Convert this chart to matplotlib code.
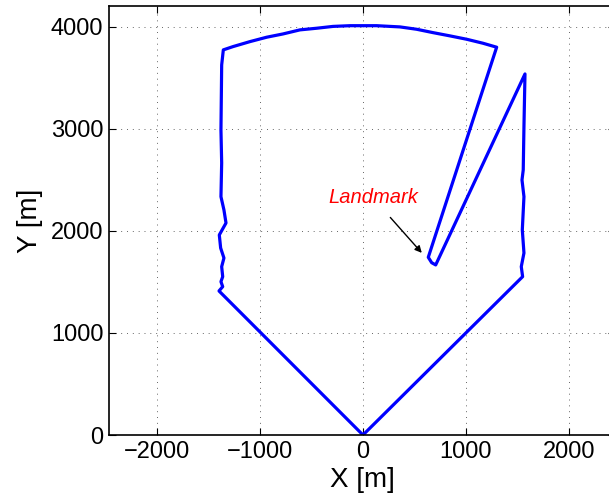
import matplotlib
matplotlib.use("Agg")
import matplotlib.pyplot as plt
import numpy as np

# trajectory (metres)
x_path = [0, -1398, -1362, -1379, -1362, -1372, -1350, -1382, -1395, -1330,
          -1350, -1379, -1372, -1379, -1372, -1356, -1262, -1097, -935, -777,
          -612, -450, -291, -126, 133, 359, 521, 680, 845, 1007, 1165, 1298,
          634, 667, 706, 1573, 1563, 1556, 1544, 1563, 1547, 1563, 1537, 1550, 0]
y_path = [0, 1412, 1454, 1503, 1552, 1650, 1735, 1833, 1961, 2078,
          2206, 2336, 2667, 2990, 3627, 3775, 3807, 3856, 3899, 3931,
          3971, 3987, 4005, 4012, 4012, 4000, 3977, 3944, 3912, 3879, 3840, 3801,
          1742, 1689, 1667, 3539, 3023, 2598, 2500, 2336, 2010, 1784, 1650, 1552, 0]

landmark_text = "Landmark"
landmark_xy = (571, 1785)
landmark_text_xy = (97, 2324)

plt.rcParams['font.family'] = ['Liberation Sans', 'DejaVu Sans']

fig = plt.figure(figsize=(6.09, 4.97), dpi=100)
ax = fig.add_axes([109/609, 62/497, 506/609, 429/497])

ax.plot(x_path, y_path, color='#0000ff', linewidth=2.3, solid_joinstyle='round')

ax.annotate(landmark_text, xy=landmark_xy, xytext=landmark_text_xy,
            color='red', fontstyle='italic', fontsize=14.5, ha='center', va='center',
            arrowprops=dict(arrowstyle='-|>', color='black', lw=1, shrinkA=7, shrinkB=0,
                            mutation_scale=10))

ax.set_xlim(-2466, 2447)
ax.set_ylim(0, 4205)
ax.set_xticks([-2000, -1000, 0, 1000, 2000])
ax.set_yticks([0, 1000, 2000, 3000, 4000])
ax.set_xticklabels(['\u22122000', '\u22121000', '0', '1000', '2000'])
ax.tick_params(direction='in', top=True, right=True, labelsize=17, length=5, width=0.8, pad=4)
ax.grid(True, linestyle=(0, (1, 5)), color='#666666', linewidth=0.7)
for s in ax.spines.values():
    s.set_linewidth(1.2)

ax.set_xlabel('X [m]', fontsize=20, labelpad=3)
ax.set_ylabel('Y [m]', fontsize=20, labelpad=6)

fig.savefig('out.png', dpi=100)
